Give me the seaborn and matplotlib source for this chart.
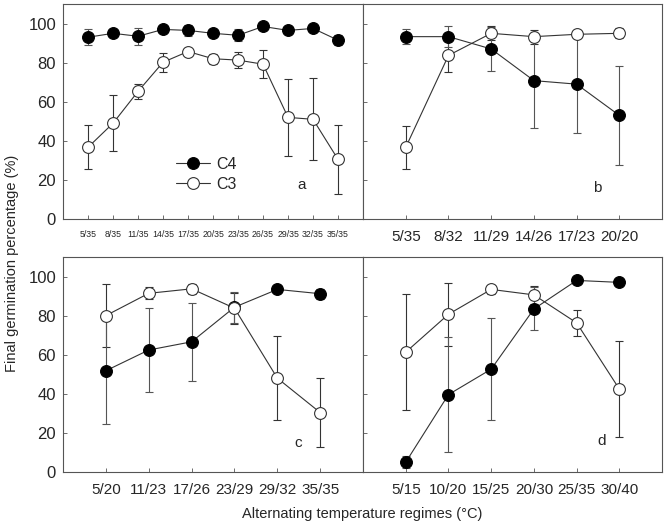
import numpy as np
import pandas as pd
import seaborn as sns
import matplotlib.pyplot as plt

sns.set_theme(style="white")
plt.rcParams['font.family'] = ['Liberation Sans', 'DejaVu Sans']

# panel a
a_labels = ['5/35', '8/35', '11/35', '14/35', '17/35', '20/35', '23/35', '26/35',
            '29/35', '32/35', '35/35']
a_c4 = [93, 95, 93.5, 97, 96.5, 95, 94, 98.5, 96.5, 97.5, 91.5]
a_c4_err = [4, 1, 4.3, 1.5, 3, 1.5, 3, 1, 1, 1, 2.5]
a_c3 = [36.7, 49, 65.3, 80.2, 85.7, 82, 81.3, 79.2, 52, 51, 30.5]
a_c3_err = [11.2, 14.3, 4, 4.8, 1, 2.5, 4, 7.2, 19.7, 21, 17.7]

# panel b
b_labels = ['5/35', '8/32', '11/29', '14/26', '17/23', '20/20']
b_c4 = [93.3, 93.3, 87, 70.8, 69, 53]
b_c4_err = [4, 5.4, 11.4, 24, 25, 25.3]
b_c3 = [36.7, 83.7, 95, 93.3, 94.5, 95]
b_c3_err = [11, 8.5, 3.6, 3.6, 1.5, 2.5]

# panel c
c_labels = ['5/20', '11/23', '17/26', '23/29', '29/32', '35/35']
c_c4 = [51.8, 62.4, 66.6, 84.3, 93.4, 91.2]
c_c4_err = [27.3, 21.6, 20, 8, 1.5, 2.5]
c_c3 = [80, 91.4, 93.7, 83.8, 48, 30.4]
c_c3_err = [16, 3, 2.5, 8, 21.4, 17.7]

# panel d
d_labels = ['5/15', '10/20', '15/25', '20/30', '25/35', '30/40']
d_c4 = [5, 39.6, 52.6, 83.4, 98, 97]
d_c4_err = [3, 29.5, 26, 11, 1, 1]
d_c3 = [61.3, 80.7, 93.4, 90.6, 76.3, 42.4]
d_c3_err = [29.7, 16, 2.5, 4.6, 6.5, 24.4]

panels = [
    ('a', a_labels, a_c4, a_c4_err, a_c3, a_c3_err),
    ('b', b_labels, b_c4, b_c4_err, b_c3, b_c3_err),
    ('c', c_labels, c_c4, c_c4_err, c_c3, c_c3_err),
    ('d', d_labels, d_c4, d_c4_err, d_c3, d_c3_err),
]

fig = plt.figure(figsize=(6.67, 5.27), dpi=100)
rects = {
    'a': [0.0945, 0.5844, 0.4498, 0.408],
    'b': [0.5443, 0.5844, 0.4483, 0.408],
    'c': [0.0945, 0.1044, 0.4498, 0.408],
    'd': [0.5443, 0.1044, 0.4483, 0.408],
}
letter_pos = {'a': (0.78, 0.14), 'b': (0.77, 0.125), 'c': (0.77, 0.115), 'd': (0.785, 0.125)}

for name, labels, c4, c4e, c3, c3e in panels:
    ax = fig.add_axes(rects[name])
    x = np.arange(len(labels))
    df = pd.DataFrame({'x': np.concatenate([x, x]),
                       'y': c4 + c3,
                       'group': ['C4'] * len(x) + ['C3'] * len(x)})
    ax.errorbar(x, c3, yerr=c3e, fmt='none', ecolor='#333333', elinewidth=0.8,
                capsize=3, capthick=0.8, zorder=2)
    ax.errorbar(x, c4, yerr=c4e, fmt='none', ecolor='#555555', elinewidth=0.8,
                capsize=3, capthick=0.8, zorder=2)
    sns.lineplot(data=df[df.group == 'C4'], x='x', y='y', ax=ax, color='#333333',
                 lw=0.8, marker='o', markersize=8.5, markerfacecolor='black',
                 markeredgecolor='black', markeredgewidth=0.8, label='C4', zorder=3)
    sns.lineplot(data=df[df.group == 'C3'], x='x', y='y', ax=ax, color='#333333',
                 lw=0.8, marker='o', markersize=8.5, markerfacecolor='white',
                 markeredgecolor='#333333', markeredgewidth=0.8, label='C3', zorder=3)
    ax.set_xlim(-1, len(labels))
    ax.set_ylim(0, 110)
    ax.set_xticks(x)
    ax.set_yticks([0, 20, 40, 60, 80, 100])
    ax.set_xlabel('')
    ax.set_ylabel('')
    ax.tick_params(direction='in', length=3, width=0.6, color='#555555',
                   left=True, bottom=True, pad=8)
    if name == 'a':
        ax.set_xticklabels(labels, fontsize=6.3)
    else:
        ax.set_xticklabels(labels, fontsize=11)
    if name in ('a', 'c'):
        ax.tick_params(axis='y', labelsize=12, pad=5)
    else:
        ax.set_yticklabels([])
    for s in ax.spines.values():
        s.set_color('#555555')
        s.set_linewidth(0.8)
    ax.text(*letter_pos[name], name, transform=ax.transAxes, fontsize=11)
    if name == 'a':
        ax.legend(loc='lower left', bbox_to_anchor=(0.33, 0.06), frameon=False,
                  fontsize=11.5, handlelength=2.1, handletextpad=0.4,
                  labelspacing=0.3)
    else:
        ax.get_legend().remove()

fig.text(0.018, 0.5, 'Final germination percentage (%)', rotation=90,
         va='center', ha='center', fontsize=10.5)
fig.text(0.543, 0.025, 'Alternating temperature regimes (°C)', ha='center',
         va='center', fontsize=10.5)

fig.savefig('out.png', dpi=100)
